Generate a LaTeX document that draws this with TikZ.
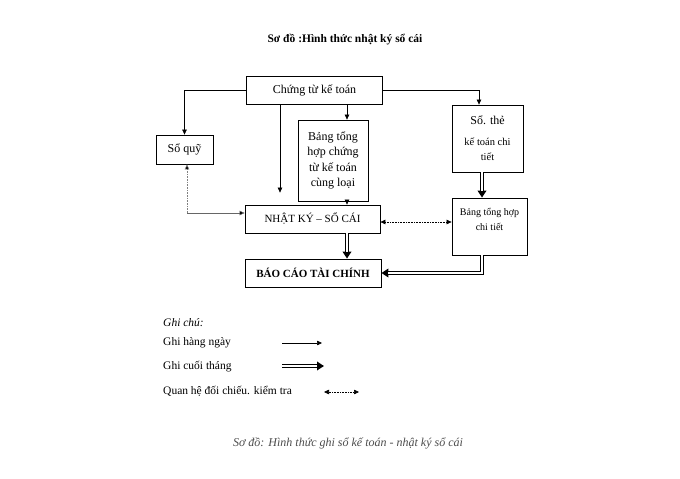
\documentclass[tikz,border=0pt]{standalone}
\usepackage{fontspec}
\setmainfont{Liberation Serif}
\usetikzlibrary{arrows.meta,calc}
\begin{document}
\begin{tikzpicture}[x=1pt,y=-1pt,
  box/.style={draw=black,line width=0.8pt,rectangle,inner sep=1pt,align=center,font=\fontsize{11.5}{15}\selectfont},
  arr/.style={draw=black,line width=0.6pt,-{Triangle[length=5pt,width=4.5pt]}},
  dbl/.style={draw=black,line width=3.4pt,-{Triangle[length=7pt,width=8.5pt]},
    postaction={draw=white,line width=1.3pt,-,shorten >=7pt}},
  dotarr/.style={draw=black,line width=0.6pt,densely dotted,{Triangle[length=5pt,width=4.5pt]}-{Triangle[length=5pt,width=4.5pt]}},
  lbl/.style={anchor=west,inner sep=0pt,font=\fontsize{11.5}{14}\selectfont}]
\useasboundingbox (0,0) rectangle (680,479);
\fill[white] (0,0) rectangle (680,479);

\node[font=\bfseries\fontsize{11.5}{14}\selectfont] (title) at (345,40) {Sơ đồ :Hình thức nhật ký sổ cái};

\node[box,minimum width=136pt,minimum height=28pt,font=\fontsize{12}{14}\selectfont] (chungtu) at (314.5,90.5) {Chứng từ kế toán};
\node[box,minimum width=57pt,minimum height=29pt,font=\fontsize{12}{14}\selectfont] (soquy) at (184.5,149.5) {Sổ quỹ};
\node[box,minimum width=70pt,minimum height=81pt,font=\fontsize{12}{15.5}\selectfont] (bangth) at (333,160.5) {Bảng tổng\\hợp chứng\\từ kế toán\\cùng loại};
\node[box,minimum width=71pt,minimum height=67pt,font=\fontsize{10.5}{15}\selectfont] (sothe) at (487.5,138.5) {{\fontsize{12}{14}\selectfont Sổ. thẻ}\\[6pt]kế toán chi\\tiết};
\node[box,minimum width=75pt,minimum height=57pt,font=\fontsize{10}{15}\selectfont,text depth=14pt] (bangct) at (489.5,226.5) {Bảng tổng hợp\\chi tiết};
\node[box,minimum width=135pt,minimum height=28pt,font=\fontsize{11}{13}\selectfont] (nhatky) at (312.5,219) {NHẬT KÝ – SỔ CÁI};
\node[box,minimum width=136pt,minimum height=28pt,font=\bfseries\fontsize{11}{13}\selectfont] (baocao) at (313,273) {BÁO CÁO TÀI CHÍNH};

\coordinate (q) at (187,213);

\draw[arr] (chungtu.west) -| (soquy.north);
\draw[arr] (chungtu.east) -| ([xshift=-8.5pt]sothe.north);
\draw[arr,shorten >=12pt] ([xshift=-34.5pt]chungtu.south) -- ([xshift=-32.5pt]nhatky.north);
\draw[arr] ([xshift=32.5pt]chungtu.south) -- ([xshift=14pt]bangth.north);
\draw[arr] ([xshift=14pt]bangth.south) -- ([xshift=34.5pt]nhatky.north);
\draw[dbl] ([xshift=-5.5pt]sothe.south) -- ([xshift=-7.5pt]bangct.north);
\draw[dotarr] ([yshift=-3pt]nhatky.east) -- ([yshift=4.5pt]bangct.west);
\draw[line width=0.6pt,gray,densely dotted,-{Triangle[length=5pt,width=4.5pt,fill=black]}] (q) -- (soquy.south -| q);
\draw[line width=0.6pt,draw=gray!80!black,-{Triangle[length=5pt,width=4.5pt,fill=black]}] (q) -- (q -| nhatky.west);
\draw[dbl] ([xshift=34.5pt]nhatky.south) -- ([xshift=34pt]baocao.north);
\draw[dbl] ([xshift=-7.5pt]bangct.south) |- (baocao.east);

\node[lbl,font=\itshape\fontsize{11.5}{14}\selectfont] (ghichu) at (163,323) {Ghi chú:};
\node[lbl] (l1) at (163,343) {Ghi hàng ngày};
\node[lbl] (l2) at (163,367) {Ghi cuối tháng};
\node[lbl] (l3) at (163,391) {Quan hệ đối chiếu. kiểm tra};
\coordinate (a1) at (282,343);
\coordinate (b1) at (322,343);
\coordinate (a2) at (282,366);
\coordinate (b2) at (324,366);
\coordinate (a3) at (324,392);
\coordinate (b3) at (359,392);
\draw[arr] (a1) -- (b1);
\draw[dbl] (a2) -- (b2);
\draw[dotarr] (a3) -- (b3);

\node[font=\itshape\fontsize{12}{14}\selectfont,text=black!70] (caption) at (348,443) {Sơ đồ: Hình thức ghi sổ kế toán - nhật ký sổ cái};
\end{tikzpicture}
\end{document}
